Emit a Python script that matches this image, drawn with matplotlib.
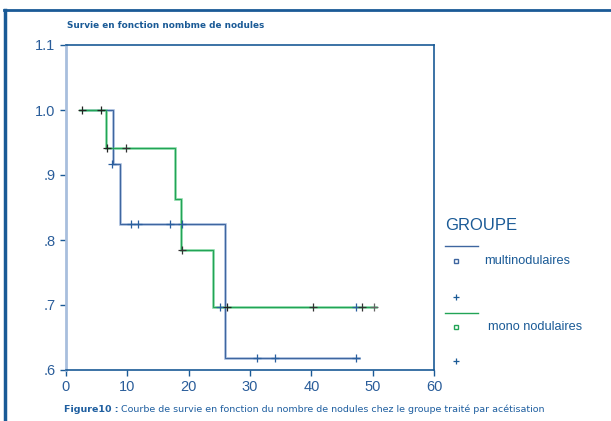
import matplotlib
matplotlib.use("Agg")
import matplotlib.pyplot as plt
from matplotlib.lines import Line2D

# Kaplan-Meier steps: event times and survival after each step
multi_times = [2.7, 7.6, 8.8, 26.0]
multi_surv = [1.0, 0.917, 0.825, 0.619]
multi_end = 47.8
multi_cens_t = [7.55, 10.6, 11.7, 16.9, 18.9, 31.1, 34.1, 47.3]
multi_cens_s = [0.917, 0.825, 0.825, 0.825, 0.825, 0.619, 0.619, 0.619]

mono_times = [2.3, 6.6, 17.8, 18.8, 23.9]
mono_surv = [1.0, 0.941, 0.863, 0.784, 0.697]
mono_end = 50.5
mono_cens_t = [2.66, 5.66, 6.75, 9.8, 18.9, 25.1, 26.2, 40.3, 47.3, 48.3, 50.2]
mono_cens_s = [1.0, 1.0, 0.941, 0.941, 0.784, 0.697, 0.697, 0.697, 0.697, 0.697, 0.697]
mono_cens_c = ["#222222", "#222222", "#222222", "#333333", "#333333", "#2a5f9e",
               "#222222", "#333333", "#2a5f9e", "#333333", "#666666"]

x_ticks = [0, 10, 20, 30, 40, 50, 60]
y_ticks = [0.6, 0.7, 0.8, 0.9, 1.0, 1.1]
y_labels = [".6", ".7", ".8", ".9", "1.0", "1.1"]

title = "Survie en fonction nombme de nodules"
legend_title = "GROUPE"
group_names = ["multinodulaires", "mono nodulaires"]
caption_bold = "Figure10 :"
caption_text = " Courbe de survie en fonction du nombre de nodules chez le groupe traité par acétisation"

DARK = "#1a5a96"
TXT = "#2a5d9a"
BLUE = "#3f66a0"
BLUE_LT = "#a8bedd"
GREEN = "#22a456"
GREEN_LT = "#8ad9a8"
ARIAL = "Liberation Sans"

fig = plt.figure(figsize=(6.11, 4.21), dpi=100)
ax = fig.add_axes([66 / 611, 1 - 370 / 421, (434 - 66) / 611, (370 - 45) / 421])


def km(ax, times, surv, end, col, col_lt):
    xs = list(times) + [end]
    ys = list(surv) + [surv[-1]]
    ax.step(xs, ys, where="post", color=col_lt, lw=1.9, solid_joinstyle="miter", zorder=2)
    ax.step(xs, ys, where="post", color=col, lw=0.8, solid_joinstyle="miter", zorder=3)


km(ax, multi_times, multi_surv, multi_end, BLUE, BLUE_LT)
km(ax, mono_times, mono_surv, mono_end, GREEN, GREEN_LT)

ax.scatter(multi_cens_t, multi_cens_s, marker="+", s=34, linewidths=0.9,
           color="#2a5f9e", zorder=5)
ax.scatter(mono_cens_t, mono_cens_s, marker="+", s=34, linewidths=0.9,
           color=mono_cens_c, zorder=5)

ax.set_xlim(0, 60)
ax.set_ylim(0.6, 1.1)
ax.set_xticks(x_ticks)
ax.set_xticklabels([str(t) for t in x_ticks], family=ARIAL)
ax.set_yticks(y_ticks)
ax.set_yticklabels(y_labels, family=ARIAL)
ax.tick_params(direction="out", length=4, width=1.0, color=DARK,
               labelcolor=TXT, labelsize=10.5)
ax.spines["left"].set_color(BLUE_LT)
ax.spines["left"].set_linewidth(2.0)
for s in ["top", "right", "bottom"]:
    ax.spines[s].set_color(DARK)
    ax.spines[s].set_linewidth(1.2)

fig.text(67 / 611, 1 - 25 / 421, title, fontsize=6.4, fontweight="bold",
         color=DARK, va="center", ha="left")

# legend block drawn in figure coordinates
def fx(px):
    return px / 611


def fy(py):
    return 1 - py / 421


fig.text(fx(445), fy(226), legend_title, fontsize=12, color=DARK, va="center",
         ha="left", family=ARIAL)
rows = [(246, 261, 297, BLUE, group_names[0], 484),
        (313, 327, 361, GREEN, group_names[1], 488)]
for ly, sy, py, col, name, tx in rows:
    fig.add_artist(Line2D([fx(445), fx(478)], [fy(ly), fy(ly)], color=col, lw=1.0))
    fig.add_artist(Line2D([fx(456)], [fy(sy)], marker="s", ms=3.5, mfc="white",
                          mec=col, mew=1.0, ls="none"))
    fig.text(fx(tx), fy(sy), name, fontsize=9.2, color=DARK, va="center", ha="left",
             family=ARIAL)
    fig.add_artist(Line2D([fx(456)], [fy(py)], marker="+", ms=5, mec=DARK,
                          mew=0.9, ls="none"))

t1 = fig.text(fx(64), fy(409), caption_bold, fontsize=6.8, fontweight="bold",
              color="#1f5fa0", va="center", ha="left")
fig.canvas.draw()
bb = t1.get_window_extent()
fig.text(bb.x1 / fig.bbox.width, fy(409), caption_text, fontsize=6.8,
         color="#1f5fa0", va="center", ha="left")

# page frame along the top and left edges
fig.add_artist(Line2D([fx(4), 1.0], [fy(10), fy(10)], color=DARK, lw=2.0))
fig.add_artist(Line2D([fx(5), fx(5)], [fy(10), 0.0], color=DARK, lw=2.5))

fig.savefig("out.png", dpi=100)
